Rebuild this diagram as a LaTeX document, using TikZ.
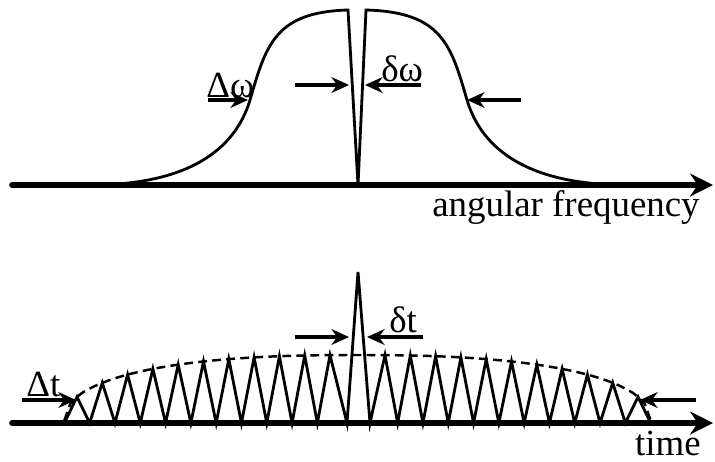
\documentclass[tikz,border=0pt]{standalone}
\usepackage{fontspec}
\setmainfont{Liberation Serif}
\usetikzlibrary{arrows.meta}
\tikzset{
  axisline/.style={line width=3.2pt, line cap=round, -{Stealth[length=13pt,width=13pt]}},
  dimarrow/.style={line width=1.8pt, -{Stealth[length=10pt,width=9pt]}},
  curveline/.style={line width=1.6pt, line join=miter},
  envline/.style={line width=1.4pt, dash pattern=on 5pt off 3pt},
  lbl/.style={font=\fontsize{21}{25}\selectfont, inner sep=0pt},
}
% envelope height above the time axis (pixel units)
\newcommand{\envh}[1]{68*(1-pow(abs(#1)/293.15,2.4))^(1/2.4)}

\begin{document}
\begin{tikzpicture}[x=0.02cm, y=-0.02cm]
  \useasboundingbox (0,0) rectangle (715,461);

  % Spectrum
  \coordinate (w0) at (12,185);
  \coordinate (w1) at (713,185);
  \draw[axisline] (w0) -- (w1);
  \draw[curveline] (90,185) .. controls (188,185) and (235,150) .. (250,100)
    .. controls (266,45) and (275,12) .. (348,10) -- (358,185) -- (366,10)
    .. controls (442,12) and (451,45) .. (467,100)
    .. controls (482,150) and (529,185) .. (627,185);
  \node[lbl, anchor=base east] (wlabel) at (700,216) {angular frequency};

  % Spectral widths
  \coordinate (DwA) at (208,100);
  \coordinate (DwB) at (248,100);
  \coordinate (DwC) at (521,100);
  \coordinate (DwD) at (467,100);
  \draw[dimarrow] (DwA) -- (DwB);
  \draw[dimarrow] (DwC) -- (DwD);
  \node[lbl, anchor=base west] (Dw) at (206,97) {Δω};

  \coordinate (dwA) at (295,85);
  \coordinate (dwB) at (349,85);
  \coordinate (dwC) at (421,85);
  \coordinate (dwD) at (365,85);
  \draw[dimarrow] (dwA) -- (dwB);
  \draw[dimarrow] (dwC) -- (dwD);
  \node[lbl, anchor=base west] (dw) at (381,81) {δω};

  % Pulse train
  \coordinate (t0) at (12,423);
  \coordinate (t1) at (713,423);
  \draw[axisline] (t0) -- (t1);
  \draw[envline] plot[domain=-293.1:293.1, samples=100] ({357.5+\x},{423-\envh{\x}});
  \draw[curveline] (64.35,423)
    \foreach \k in {10,...,1} {
      -- ({357.5-27.5-25.3*\k},{423-\envh{27.5+25.3*\k}})
      -- ({357.5-14.85-25.3*\k},423) }
    -- (330,{423-\envh{27.5}}) -- (347,423) -- (358,272) -- (370,423)
    -- (385,{423-\envh{27.5}})
    \foreach \k in {1,...,10} {
      -- ({357.5+14.85+25.3*\k},423)
      -- ({357.5+27.5+25.3*\k},{423-\envh{27.5+25.3*\k}}) }
    -- (650.65,423);
  \node[lbl, anchor=base east] (tlabel) at (701,455) {time};

  % Temporal widths
  \coordinate (DtA) at (22,400);
  \coordinate (DtB) at (76,400);
  \coordinate (DtC) at (696,400);
  \coordinate (DtD) at (640,400);
  \draw[dimarrow] (DtA) -- (DtB);
  \draw[dimarrow] (DtC) -- (DtD);
  \node[lbl, anchor=base west] (Dt) at (26,396) {Δt};

  \coordinate (dtA) at (295,337);
  \coordinate (dtB) at (349,337);
  \coordinate (dtC) at (423,337);
  \coordinate (dtD) at (367,337);
  \draw[dimarrow] (dtA) -- (dtB);
  \draw[dimarrow] (dtC) -- (dtD);
  \node[lbl, anchor=base west] (dt) at (389,332) {δt};
\end{tikzpicture}
\end{document}
